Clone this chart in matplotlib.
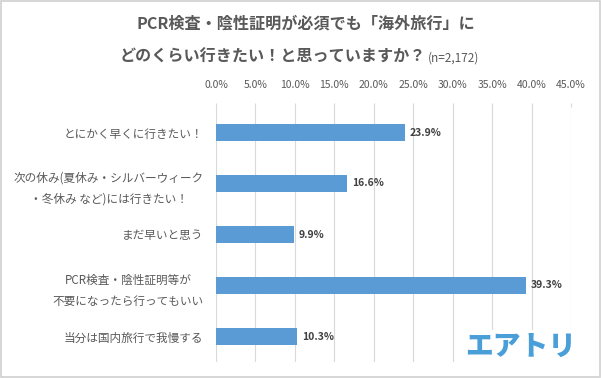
import numpy as np
import matplotlib.pyplot as plt
from matplotlib.ticker import FuncFormatter
from matplotlib.patches import Rectangle

plt.rcParams['font.family'] = ['Noto Sans CJK JP', 'DejaVu Sans']

# 데이터
categories = [
    "とにかく早くに行きたい！",
    "次の休み(夏休み・シルバーウィーク\n・冬休み など)には行きたい！",
    "まだ早いと思う",
    "PCR検査・陰性証明等が\n不要になったら行ってもいい",
    "当分は国内旅行で我慢する",
]
values = [23.9, 16.6, 9.9, 39.3, 10.3]
x_ticks = np.arange(0, 45.1, 5)

text_color = '#595959'
bar_color = '#5B9BD5'

fig = plt.figure(figsize=(6.01, 3.78), dpi=100)
ax = fig.add_axes([216 / 601, 1 - 362 / 378, 355 / 601, 255 / 378])

y = np.arange(len(categories))
ax.barh(y, values, height=0.34, color=bar_color, zorder=3)
for yi, v in zip(y, values):
    ax.text(v + 0.6, yi, f'{v:.1f}%', va='center', ha='left',
            fontsize=7.5, fontweight='bold', color='#404040')

ax.set_xlim(0, 45)
ax.set_ylim(len(categories) - 0.5, -0.5)
ax.set_yticks(y)
ax.set_yticklabels(categories, fontsize=8.4, color=text_color,
                   multialignment='center', linespacing=1.8)
ax.set_xticks(x_ticks)
ax.xaxis.set_major_formatter(FuncFormatter(lambda x, pos: f'{x:.1f}%'))
ax.xaxis.tick_top()
ax.tick_params(axis='x', labelsize=7.5, labelcolor=text_color, length=3,
               color='#d9d9d9', pad=9)
ax.tick_params(axis='y', length=0, pad=9)
ax.grid(axis='x', color='#d9d9d9', linewidth=0.8, zorder=0)
for s in ax.spines.values():
    s.set_visible(False)

# 제목
fig.text(306 / 601, 1 - 24 / 378, "PCR検査・陰性証明が必須でも「海外旅行」に",
         ha='center', va='center', fontsize=11.6, fontweight='bold', color=text_color)
fig.text(120 / 601, 1 - 57 / 378, "どのくらい行きたい！と思っていますか？",
         ha='left', va='center', fontsize=11.6, fontweight='bold', color=text_color)
fig.text(428 / 601, 1 - 58 / 378, "(n=2,172)",
         ha='left', va='center', fontsize=8.5, color=text_color)

# 로고
fig.text(521 / 601, 1 - 347 / 378, "エアトリ", ha='center', va='center',
         fontsize=20, fontweight='heavy', color='#4a9fd8',
         bbox=dict(facecolor='white', edgecolor='none', pad=2))

# 테두리
fig.patches.append(Rectangle((0.001, 0.002), 0.997, 0.995, transform=fig.transFigure,
                             fill=False, edgecolor='#d0d0d0', linewidth=1.2))

fig.savefig('out.png', dpi=100)
